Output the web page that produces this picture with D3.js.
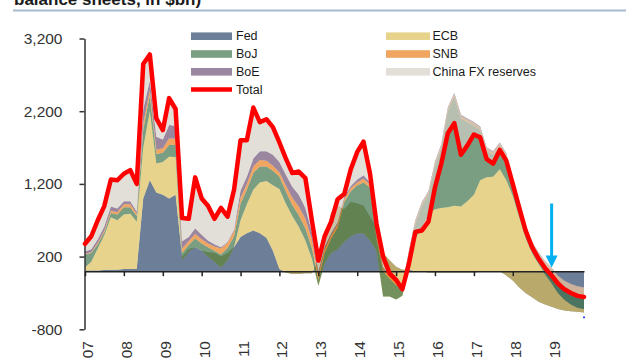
<!DOCTYPE html>
<html><head><meta charset="utf-8">
<script src="https://cdn.jsdelivr.net/npm/d3@7"></script>
<style>
body{margin:0;background:#fff}
svg{display:block}
text{font-family:"Liberation Sans",Arial,sans-serif}
</style></head>
<body><svg id="c" width="640" height="360"></svg>
<script>
// ---- data (12-month change, $bn), bimonthly ----
const dates = [
"2007-01","2007-03","2007-05","2007-07","2007-09","2007-11",
"2008-01","2008-03","2008-05","2008-07","2008-09","2008-11",
"2009-01","2009-03","2009-05","2009-07","2009-09","2009-11",
"2010-01","2010-03","2010-05","2010-07","2010-09","2010-11",
"2011-01","2011-03","2011-05","2011-07","2011-09","2011-11",
"2012-01","2012-03","2012-05","2012-07","2012-09","2012-11",
"2013-01","2013-03","2013-05","2013-07","2013-09","2013-11",
"2014-01","2014-03","2014-05","2014-07","2014-09","2014-11",
"2015-01","2015-03","2015-05","2015-07","2015-09","2015-11",
"2016-01","2016-03","2016-05","2016-07","2016-09","2016-11",
"2017-01","2017-03","2017-05","2017-07","2017-09","2017-11",
"2018-01","2018-03","2018-05","2018-07","2018-09","2018-11",
"2019-01","2019-03","2019-05","2019-07","2019-09","2019-11"];

const fed = [10,10,10,15,20,20, 30,30,30,1000,1250,1080, 1050,1000,1050,200,300,330,
 280,260,250,200,250,330, 470,520,560,520,460,280, 30,-20,-40,-40,-30,-30,
 150,400,800,900,850,950, 930,900,744,600,250,150, 60,20,20,0,0,-20,
 -20,-20,-20,-20,-20,-20, -20,-10,-10,0,0,-60, -130,-220,-300,-360,-420,-460,
 -490,-520,-540,-550,-560,-570];
const ecb = [40,120,300,480,720,680, 750,760,650,700,950,400, 450,574,520,-50,-30,0,
 0,-60,-120,-150,-100,0, 230,400,560,700,780,900, 1100,950,800,650,450,200,
 -350,-300,-550,-600,-450,-470, -410,-380,-324,-320,-600,-500, -450,-360,40,450,600,800,
 870,890,900,920,910,980, 1070,1260,1300,1300,1400,1310, 1165,965,755,605,515,415,
 325,220,145,90,55,50];
const boj = [180,120,60,40,60,80, 100,90,80,250,220,130, 130,160,170,100,90,120,
 100,130,150,180,170,150, 230,200,230,220,200,200, 170,170,150,160,170,150,
 80,150,200,300,550,620, 660,700,730,170,350,250, 200,100,150,200,300,270,
 600,830,1320,1500,1210,1090, 950,690,360,300,320,310, 150,120,90,70,60,70,
 90,110,125,135,140,140];
const snb = [10,10,20,20,30,30, 40,40,30,80,70,60, 60,90,80,60,50,60,
 60,50,60,80,70,70, 80,80,90,90,80,70, 60,80,100,120,130,120,
 60,50,40,40,40,40, 40,50,40,30,30,30, 40,40,40,30,30,30,
 30,30,30,30,30,30, 30,30,30,30,30,40, 50,60,70,80,90,100,
 110,120,130,140,150,150];
const boe = [30,40,50,60,60,50, 40,40,30,200,130,180, 120,185,180,100,60,80,
 60,40,30,20,10,20, 100,100,110,120,130,150, 140,150,150,160,150,100,
 50,40,30,30,30,30, 40,50,30,20,20,10, 10,10,30,20,20,20,
 20,20,20,20,20,20, 20,20,20,20,20,20, 20,15,10,10,10,10,
 10,10,10,10,10,10];
const china = [106,180,260,280,370,390, 380,430,380,620,360,250, 130,371,230,320,250,700,
 500,480,350,540,350,550, 690,500,700,400,440,380, 270,220,190,320,410,160,
 155,140,160,320,40,230, 380,460,124,150,150,30, 20,-60,-180,-160,-390,-420,
 -350,-270,-352,-414,-550,-370, -170,-150,-160,-170,-103,-100, -55,-60,-65,-75,-85,-95,
 -105,-110,-120,-125,-135,-135];
const total = [376,480,700,895,1260,1250, 1340,1390,1200,2850,2980,2100, 1940,2380,2230,730,720,1290,
 1000,900,720,870,750,1120, 1800,1800,2250,2050,2090,1980, 1770,1550,1350,1370,1280,700,
 145,480,680,990,1060,1400, 1640,1780,1344,650,200,-30, -120,-250,100,540,560,680,
 1150,1480,1898,2036,1600,1730, 1880,1840,1540,1480,1667,1520, 1200,880,560,330,170,40,
 -60,-170,-250,-300,-340,-355];

const seriesKeys = ["Fed","ECB","BoJ","SNB","BoE","China FX reserves"];
const seriesValues = [fed, ecb, boj, snb, boe, china];
const xTickYears = ["2007","2008","2009","2010","2011","2012","2013","2014","2015","2016","2017","2018","2019"];
const xTickLabels = ["07","08","09","10","11","12","13","14","15","16","17","18","19"];
const yTicks = [-800,200,1200,2200,3200];
const yTickLabels = ["-800","200","1,200","2,200","3,200"];
const titleText = "balance sheets, in $bn)";
const arrowDate = "2019-01", arrowFrom = 930, arrowTo = 50;
const dotDate = "2019-11", dotValue = -635;

// ---- styles ----
const colors = {"Fed":"#274167","ECB":"#ddbe56","BoJ":"#3b7047","SNB":"#e97b14","BoE":"#6c4c73","China FX reserves":"#d4cec6"};
const alpha = 0.68;

const parse = d3.timeParse("%Y-%m");
const svg = d3.select("#c");

const x = d3.scaleTime().domain([parse(dates[0]), parse(dates[dates.length-1])]).range([85, 584]);
const y = d3.scaleLinear().domain([-800, 3200]).range([329.3, 38.5]);

const rows = dates.map((d, i) => {
  const r = {date: parse(d)};
  seriesKeys.forEach((k, j) => r[k] = seriesValues[j][i]);
  return r;
});

const layers = d3.stack().keys(seriesKeys).order(d3.stackOrderNone).offset(d3.stackOffsetNone)(rows);
const area = d3.area().x(d => x(d.data.date)).y0(d => y(d[0])).y1(d => y(d[1]));

svg.append("g").selectAll("path").data(layers).join("path")
  .attr("d", area).attr("fill", d => colors[d.key]).attr("fill-opacity", alpha);

// title fragment + rule
svg.append("text").attr("x", 14).attr("y", 5).attr("font-size", 17).attr("font-weight", "bold")
  .attr("fill", "#1a1a1a").text(titleText);
svg.append("line").attr("x1", 13).attr("x2", 626).attr("y1", 10.5).attr("y2", 10.5)
  .attr("stroke", "#a9b9cf").attr("stroke-width", 2);

// y axis
const gy = svg.append("g").attr("transform", "translate(84.5,0)")
  .call(d3.axisLeft(y).tickValues(yTicks).tickFormat((d, i) => yTickLabels[i])
    .tickSize(5).tickSizeOuter(0).tickPadding(17));
gy.selectAll("path,line").attr("stroke", "#333").attr("stroke-width", 1.5);
gy.selectAll("text").attr("font-size", 15.5).attr("fill", "#333")
  .attr("font-family", "'Liberation Sans',Arial,sans-serif");

// x axis at zero
const gx = svg.append("g").attr("transform", `translate(0,${y(0)})`)
  .call(d3.axisBottom(x).tickValues(xTickYears.map(v => parse(v + "-01"))).tickFormat("")
    .tickSize(5).tickSizeOuter(0));
gx.selectAll("path,line").attr("stroke", "#222").attr("stroke-width", 1.5);

svg.append("g").selectAll("text").data(xTickYears).join("text")
  .attr("transform", (d) => `translate(${x(parse(d + "-01")) + 2.5},341) rotate(-90)`)
  .attr("text-anchor", "end").attr("dominant-baseline", "central")
  .attr("font-size", 15.5).attr("fill", "#333")
  .text((d, i) => xTickLabels[i]);

// total line
svg.append("path").datum(total)
  .attr("d", d3.line().x((d, i) => x(parse(dates[i]))).y(d => y(d)))
  .attr("fill", "none").attr("stroke", "#ff0000").attr("stroke-width", 4.5)
  .attr("stroke-linejoin", "round").attr("stroke-linecap", "round");

// arrow annotation
const ax = x(parse(arrowDate));
svg.append("line").attr("x1", ax).attr("x2", ax).attr("y1", y(arrowFrom)).attr("y2", y(arrowTo) - 10)
  .attr("stroke", "#00b0f0").attr("stroke-width", 3);
svg.append("path")
  .attr("d", `M${ax-6},${y(arrowTo)-12}L${ax+6},${y(arrowTo)-12}L${ax},${y(arrowTo)}Z`)
  .attr("fill", "#00b0f0");
svg.append("circle").attr("cx", x(parse(dotDate))).attr("cy", y(dotValue)).attr("r", 1.1).attr("fill", "#3344ff");

// legend
const legLeft = ["Fed","BoJ","BoE"];
const legRight = ["ECB","SNB","China FX reserves"];
const rowY = r => 36.2 + r * 17.8;
const lg = svg.append("g");
legLeft.forEach((k, r) => {
  lg.append("rect").attr("x", 191).attr("y", rowY(r) - 3.8).attr("width", 41).attr("height", 7.6)
    .attr("fill", colors[k]).attr("fill-opacity", alpha);
  lg.append("text").attr("x", 236).attr("y", rowY(r)).attr("dominant-baseline", "central")
    .attr("font-size", 12.5).attr("fill", "#1a1a1a").text(k);
});
lg.append("line").attr("x1", 191).attr("x2", 232).attr("y1", rowY(3)).attr("y2", rowY(3))
  .attr("stroke", "#ff0000").attr("stroke-width", 4.5);
lg.append("text").attr("x", 236).attr("y", rowY(3)).attr("dominant-baseline", "central")
  .attr("font-size", 12.5).attr("fill", "#1a1a1a").text("Total");
legRight.forEach((k, r) => {
  lg.append("rect").attr("x", 386).attr("y", rowY(r) - 3.8).attr("width", 44).attr("height", 7.6)
    .attr("fill", colors[k]).attr("fill-opacity", alpha);
  lg.append("text").attr("x", 432.5).attr("y", rowY(r)).attr("dominant-baseline", "central")
    .attr("font-size", 12.5).attr("fill", "#1a1a1a").text(k);
});
</script>
</body></html>
